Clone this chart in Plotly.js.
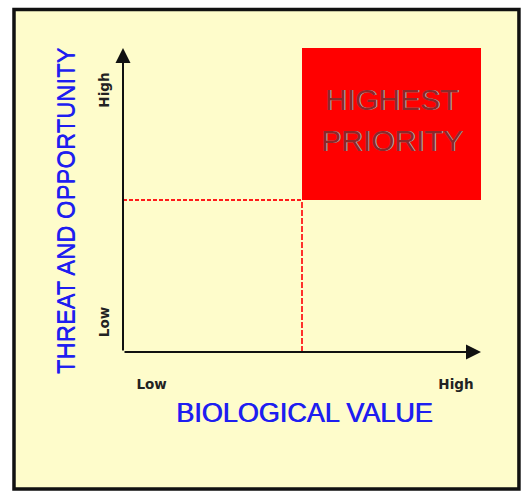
<!DOCTYPE html>
<html>
<head>
<meta charset="utf-8">
<script src="https://cdn.plot.ly/plotly-3.0.1.min.js"></script>
<style>html,body{margin:0;padding:0;background:#fff;}#chart{width:524px;height:493px;}</style>
</head>
<body>
<div id="chart"></div>
<script>
// ---- data ----
const levelLabels = ['Low', 'High'];
const xLevelValues = [0.8, 9.3];
const yLevelValues = [0.92, 8.55];
const axisMin = 0;
const axisMax = 10;
const threshold = 5;
const priorityLines = ['HIGHEST', 'PRIORITY'];
const priorityLineY = [8.32, 6.97];
const xTitle = 'BIOLOGICAL VALUE';
const yTitle = 'THREAT AND OPPORTUNITY';

const cream = '#FEFCCB';
const blue = '#1E1EF0';

const traces = [
  {
    // highest-priority quadrant
    x: [threshold, axisMax, axisMax, threshold, threshold],
    y: [threshold, threshold, axisMax, axisMax, threshold],
    mode: 'lines', fill: 'toself', fillcolor: '#FF0000',
    line: {width: 0, color: '#FF0000'}, hoverinfo: 'skip', showlegend: false
  },
  {
    x: [axisMin, threshold], y: [threshold, threshold],
    mode: 'lines', line: {color: '#FF1A1A', width: 1.8, dash: '4px,2px'},
    hoverinfo: 'skip', showlegend: false
  },
  {
    x: [threshold, threshold], y: [axisMin, threshold],
    mode: 'lines', line: {color: '#FF1A1A', width: 1.8, dash: '6px,2px'},
    hoverinfo: 'skip', showlegend: false
  }
];

const annotations = [
  // axis arrows
  {x: axisMax, y: axisMin, ax: axisMin, ay: axisMin, xref: 'x', yref: 'y', axref: 'x', ayref: 'y',
   showarrow: true, arrowhead: 2, arrowsize: 1.5, arrowwidth: 2, arrowcolor: '#111', text: ''},
  {x: axisMin, y: axisMax, ax: axisMin, ay: axisMin, xref: 'x', yref: 'y', axref: 'x', ayref: 'y',
   showarrow: true, arrowhead: 2, arrowsize: 1.5, arrowwidth: 2, arrowcolor: '#111', text: ''},
  // axis titles
  {text: xTitle, xref: 'paper', yref: 'paper', x: 0.508, y: -0.2007, xanchor: 'center', yanchor: 'middle',
   showarrow: false, font: {family: 'Liberation Sans, Arial, sans-serif', size: 27, color: blue,
   shadow: '0.7px 0px 0px ' + blue}},
  {text: yTitle, xref: 'paper', yref: 'paper', x: -0.159, y: 0.464, xanchor: 'center', yanchor: 'middle',
   textangle: -90, showarrow: false, font: {family: 'Liberation Sans, Arial, sans-serif', size: 23.8, color: blue,
   shadow: '0px 0.7px 0px ' + blue}}
];
priorityLines.forEach((t, i) => {
  annotations.push({
    text: t, x: (threshold + axisMax) / 2, y: priorityLineY[i], xref: 'x', yref: 'y',
    xanchor: 'center', yanchor: 'middle', showarrow: false,
    font: {family: 'Liberation Sans, Arial, sans-serif', size: 30, color: '#8A2A2A',
           shadow: '1.2px 0px 0px #C8A0A0'}
  });
});

const layout = {
  width: 524, height: 493,
  margin: {l: 123, r: 43, t: 48, b: 141, pad: 0},
  paper_bgcolor: '#FFFFFF',
  plot_bgcolor: 'rgba(0,0,0,0)',
  showlegend: false,
  xaxis: {
    range: [axisMin, axisMax], showgrid: false, zeroline: false, showline: false,
    tickmode: 'array', tickvals: xLevelValues, ticktext: levelLabels, ticks: '',
    ticklabelstandoff: 22,
    tickfont: {family: 'DejaVu Sans, sans-serif', size: 13.5, color: '#222', weight: 'bold'},
    fixedrange: true
  },
  yaxis: {
    range: [axisMin, axisMax], showgrid: false, zeroline: false, showline: false,
    tickmode: 'array', tickvals: yLevelValues, ticktext: levelLabels, ticks: '',
    tickangle: -90, ticklabelstandoff: 10,
    tickfont: {family: 'DejaVu Sans, sans-serif', size: 13.5, color: '#222', weight: 'bold'},
    fixedrange: true
  },
  shapes: [
    {type: 'rect', xref: 'paper', yref: 'paper', x0: -0.3045, x1: 1.106, y0: -0.4507, y1: 1.1266,
     fillcolor: cream, line: {color: '#111', width: 3.5}, layer: 'below'}
  ],
  annotations: annotations
};

Plotly.newPlot('chart', traces, layout, {staticPlot: true, displayModeBar: false});
</script>
</body>
</html>
